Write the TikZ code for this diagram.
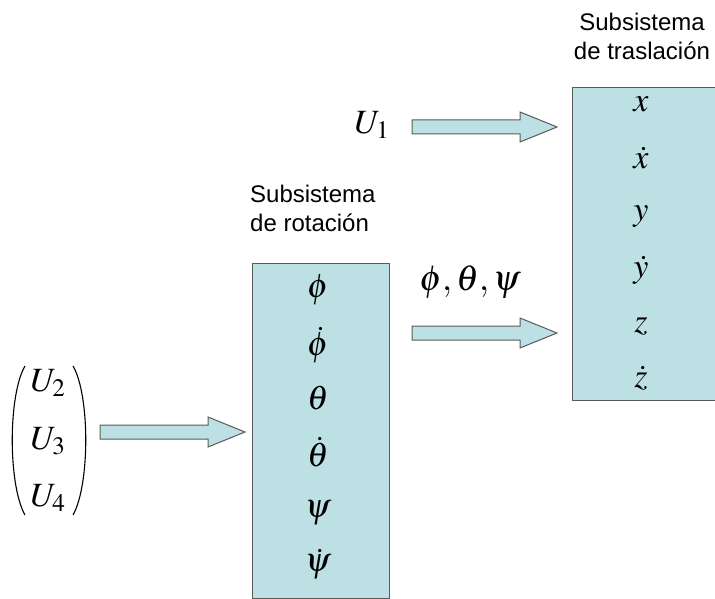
\documentclass[tikz,border=0pt]{standalone}
\usepackage{amsmath}
\usepackage{mathptmx}
\usepackage{fontspec}
\setsansfont{Liberation Sans}
\definecolor{boxfill}{HTML}{BCE0E4}
\definecolor{boxline}{HTML}{5A5A5A}
\tikzset{
  subbox/.style={draw=boxline, fill=boxfill, line width=1pt},
  var/.style={inner sep=0pt, font=\fontsize{34}{40}\selectfont},
  title/.style={inner sep=0pt, align=left, font=\sffamily\fontsize{24}{29}\selectfont},
  paren/.style={line width=1.1pt, black},
  blockarrow/.pic={\draw[draw=boxline, fill=boxfill, line width=1pt]
     (0,7) -- (108,7) -- (108,15) -- (145,0) -- (108,-15) -- (108,-7) -- (0,-7) -- cycle;}
}
\begin{document}
\begin{tikzpicture}[x=1pt,y=-1pt]
\useasboundingbox (0,0) rectangle (715,599);
% titles
\node[title, align=center] (ttras) at (642,36) {Subsistema\\de traslación};
\node[title, anchor=west] (trot) at (250,208) {Subsistema\\de rotación};
% boxes
\begin{scope}
\clip (0,0) rectangle (715,599);
\draw[subbox] (572,88) rectangle (718,400);
\draw[subbox] (252,263) rectangle (389,598);
\end{scope}
% right box vars
\node[var] (vx)  at (641,104) {$x$};
\node[var] (vxd) at (641,158) {$\dot{x}$};
\node[var] (vy)  at (641,217) {$y$};
\node[var] (vyd) at (641,270) {$\dot{y}$};
\node[var] (vz)  at (641,326) {$z$};
\node[var] (vzd) at (641,378) {$\dot{z}$};
% left box vars
\node[var] (vphi)   at (318,290) {$\phi$};
\node[var] (vphid)  at (318,345) {$\dot{\phi}$};
\node[var] (vth)    at (318,398) {$\theta$};
\node[var] (vthd)   at (318,452) {$\dot{\theta}$};
\node[var] (vpsi)   at (318,513) {$\psi$};
\node[var] (vpsid)  at (318,564) {$\dot{\psi}$};
% inputs
\node[var] (u1) at (372,125) {$U_1$};
\node[var] (u2) at (48,383) {$U_2$};
\node[var] (u3) at (48,441) {$U_3$};
\node[var] (u4) at (48,498) {$U_4$};
\draw[paren] (25,366) .. controls (8,395) and (8,485) .. (25,515);
\draw[paren] (73,366) .. controls (90,395) and (90,485) .. (73,515);
\node[var, font=\fontsize{36}{40}\selectfont] (angles) at (470,282) {$\phi,\theta,\psi$};
% arrows
\pic at (412,127) {blockarrow};
\pic at (412,333) {blockarrow};
\pic at (100,432) {blockarrow};
\end{tikzpicture}
\end{document}
